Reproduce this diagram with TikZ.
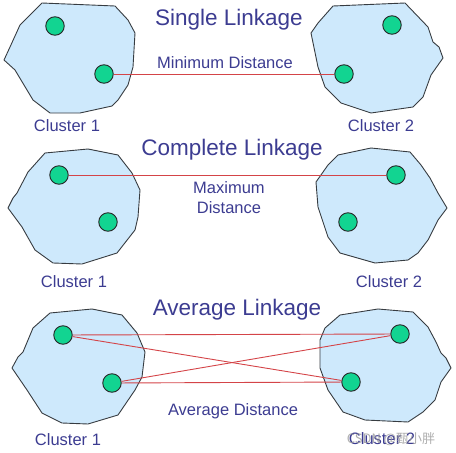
\documentclass[tikz,border=0pt]{standalone}
\usepackage{fontspec}
\setmainfont{Liberation Sans}
\newfontfamily\cjkfont{Noto Sans CJK SC}
\usepackage{tikz}

\definecolor{blobfill}{RGB}{206,233,252}
\definecolor{blobline}{RGB}{55,60,65}
\definecolor{pointfill}{RGB}{18,212,145}
\definecolor{linkred}{RGB}{212,68,72}
\definecolor{labelblue}{RGB}{60,60,145}

\begin{document}
\begin{tikzpicture}[
  x=1pt, y=-1pt,
  blob/.style={draw=blobline, fill=blobfill, line width=0.9pt, line join=round},
  point/.style={circle, draw=black!85, fill=pointfill, line width=0.9pt,
    minimum size=18.5pt, inner sep=0pt},
  link/.style={draw=linkred, line width=0.9pt},
  title/.style={text=labelblue, anchor=base, inner sep=0pt,
    font=\fontsize{22.5}{24}\selectfont},
  lbl/.style={text=labelblue, anchor=base, inner sep=0pt, align=center,
    font=\fontsize{16.5}{20}\selectfont}
]
\useasboundingbox (0,0) rectangle (456,453);

% single linkage
\draw[blob] (42,3) -- (115,6) -- (128,20) -- (135,33) -- (133,67) -- (128,85)
  -- (118,100) -- (112,106) -- (80,113) -- (50,113) -- (33,100) -- (15,70)
  -- (4,60) -- (10,47) -- (20,25) -- cycle;
\draw[blob] (333,6) -- (405,3) -- (428,27) -- (433,42) -- (439,47) -- (443,58)
  -- (431,75) -- (423,97) -- (413,107) -- (371,113) -- (341,103) -- (325,87)
  -- (318,67) -- (311,33) -- (318,23) -- cycle;
\node[point] (s1a) at (55,26) {};
\node[point] (s1b) at (104,74) {};
\node[point] (s2a) at (392,25) {};
\node[point] (s2b) at (344,74) {};
\draw[link] (s1b) -- (s2b);
\node[title] (single) at (229,25) {Single Linkage};
\node[lbl] (mindist) at (225,68) {Minimum Distance};
\node[lbl] (s1name) at (67,131) {Cluster 1};
\node[lbl] (s2name) at (381,131) {Cluster 2};

% complete linkage
\draw[blob] (45,153) -- (88,149) -- (118,155) -- (132,173) -- (140,190)
  -- (138,217) -- (135,230) -- (117,253) -- (82,264) -- (53,263) -- (35,250)
  -- (22,227) -- (8,208) -- (13,198) -- (17,193) -- (28,172) -- cycle;
\draw[blob] (338,155) -- (371,148) -- (410,152) -- (421,165) -- (430,178)
  -- (438,193) -- (447,208) -- (438,220) -- (428,240) -- (418,253) -- (408,260)
  -- (375,263) -- (340,253) -- (328,237) -- (318,207) -- (316,182) -- (328,165)
  -- cycle;
\node[point] (c1a) at (59,175) {};
\node[point] (c1b) at (108,222) {};
\node[point] (c2a) at (396,175) {};
\node[point] (c2b) at (348,222) {};
\draw[link] (c1a) -- (c2a);
\node[title] (complete) at (232,155) {Complete Linkage};
\node[lbl] (maxdist) at (229,213) {Maximum\\Distance};
\node[lbl] (c1name) at (74,287) {Cluster 1};
\node[lbl] (c2name) at (389,287) {Cluster 2};

% average linkage
\draw[blob] (50,313) -- (92,309) -- (122,315) -- (137,333) -- (145,352)
  -- (142,377) -- (135,390) -- (118,415) -- (88,424) -- (62,423) -- (42,413)
  -- (27,390) -- (12,368) -- (18,357) -- (23,352) -- (33,328) -- cycle;
\draw[blob] (340,315) -- (378,309) -- (413,312) -- (428,327) -- (436,342)
  -- (441,353) -- (446,358) -- (451,368) -- (441,382) -- (435,400) -- (423,412)
  -- (408,422) -- (365,420) -- (343,412) -- (328,390) -- (320,368) -- (320,340)
  -- (325,328) -- cycle;
\node[point] (a1a) at (63,335) {};
\node[point] (a1b) at (112,383) {};
\node[point] (a2a) at (400,334) {};
\node[point] (a2b) at (351,382) {};
\draw[link] (a1a) -- (a2a);
\draw[link] (a1a) -- (a2b);
\draw[link] (a1b) -- (a2a);
\draw[link] (a1b) -- (a2b);
\node[title] (average) at (237,315) {Average Linkage};
\node[lbl] (avgdist) at (233,415) {Average Distance};
\node[lbl] (a1name) at (68,445) {Cluster 1};
\node[lbl] (a2name) at (382,444) {Cluster 2};

\node[anchor=base, inner sep=0pt, text=black!40, opacity=0.8,
  font=\cjkfont\fontsize{13}{14}\selectfont] (mark) at (391,443) {CSDN @甄小胖};
\end{tikzpicture}
\end{document}
